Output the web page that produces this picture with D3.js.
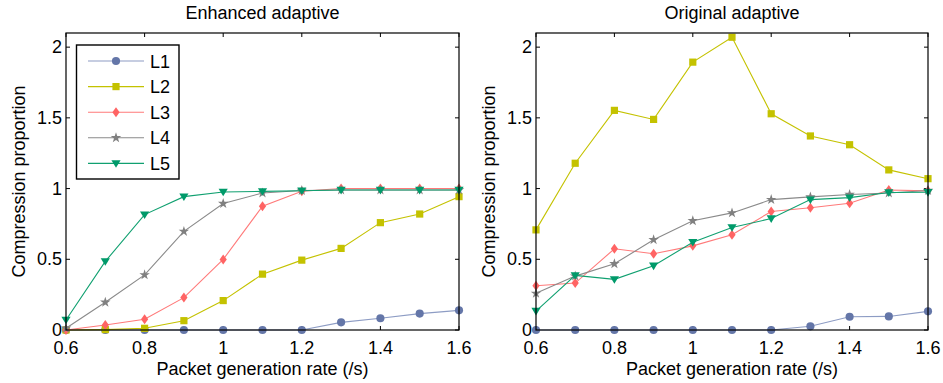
<!DOCTYPE html>
<html>
<head>
<meta charset="utf-8">
<script src="https://cdn.jsdelivr.net/npm/d3@7"></script>
<style>
  body { margin: 0; background: #fff; }
  svg { font-family: Arial, "Liberation Sans", sans-serif; }
</style>
</head>
<body>
<script>
const rates = [0.6, 0.7, 0.8, 0.9, 1.0, 1.1, 1.2, 1.3, 1.4, 1.5, 1.6];
const seriesNames = ["L1", "L2", "L3", "L4", "L5"];
const xTicks = [0.6, 0.8, 1, 1.2, 1.4, 1.6];
const yTicks = [0, 0.5, 1, 1.5, 2];

// Enhanced adaptive
const enhL1 = [0, 0, 0, 0, 0, 0, 0, 0.054, 0.083, 0.116, 0.139];
const enhL2 = [0, 0.003, 0.012, 0.066, 0.208, 0.395, 0.494, 0.577, 0.759, 0.82, 0.943];
const enhL3 = [0, 0.035, 0.076, 0.229, 0.499, 0.875, 0.981, 1.0, 1.0, 1.0, 1.0];
const enhL4 = [0.012, 0.196, 0.39, 0.697, 0.894, 0.969, 0.986, 0.99, 0.99, 0.99, 0.99];
const enhL5 = [0.071, 0.485, 0.816, 0.943, 0.976, 0.98, 0.985, 0.99, 0.99, 0.99, 0.99];

// Original adaptive
const orgL1 = [0, 0, 0, 0, 0, 0, 0, 0.026, 0.094, 0.096, 0.132];
const orgL2 = [0.708, 1.179, 1.553, 1.489, 1.894, 2.07, 1.529, 1.372, 1.31, 1.132, 1.07];
const orgL3 = [0.313, 0.332, 0.574, 0.539, 0.595, 0.673, 0.838, 0.864, 0.896, 0.99, 0.984];
const orgL4 = [0.259, 0.381, 0.468, 0.638, 0.772, 0.828, 0.922, 0.941, 0.958, 0.969, 0.986];
const orgL5 = [0.134, 0.386, 0.358, 0.454, 0.621, 0.725, 0.788, 0.922, 0.936, 0.972, 0.974];

const markColors = ["#6476a8", "#c4c200", "#ff6464", "#808080", "#009a6a"];
const lineColors = ["#8d9cc4", "#c4c200", "#ff7a7a", "#8a8a8a", "#10a070"];

const W = 943, H = 383;
const svg = d3.select("body").append("svg")
  .attr("width", W)
  .attr("height", H);

// marker shapes (MATLAB style)
function markerPath(i) {
  if (i == 0) return d3.symbol(d3.symbolCircle, 52)();
  if (i == 1) return "M-3.6,-3.6H3.6V3.6H-3.6Z";
  if (i == 2) return "M0,-5L3.6,0L0,5L-3.6,0Z";
  if (i == 3) return d3.symbol(d3.symbolStar, 34)();
  return "M-4.6,-3.2H4.6L0,4.4Z";
}

function drawPanel(left, right, title, data, withLegend) {
  const top = 33, bottom = 330;
  const x = d3.scaleLinear().domain([0.6, 1.6]).range([left, right]);
  const y = d3.scaleLinear().domain([0, 2.1]).range([bottom, top]);
  const g = svg.append("g");

  // ticks inward on all sides
  const tickLen = 4;
  g.selectAll(".xt").data(xTicks).enter().append("path")
    .attr("d", d => `M${x(d)},${bottom}v${-tickLen}M${x(d)},${top}v${tickLen}`)
    .attr("stroke", "#000").attr("stroke-width", 1);
  g.selectAll(".yt").data(yTicks).enter().append("path")
    .attr("d", d => `M${left},${y(d)}h${tickLen}M${right},${y(d)}h${-tickLen}`)
    .attr("stroke", "#000").attr("stroke-width", 1);

  g.selectAll(".xl").data(xTicks).enter().append("text")
    .attr("x", d => x(d))
    .attr("y", 354)
    .attr("text-anchor", "middle")
    .style("font-size", "18px")
    .text(d => d3.format("~g")(d));
  g.selectAll(".yl").data(yTicks).enter().append("text")
    .attr("x", left - 4)
    .attr("y", d => y(d) + 6)
    .attr("text-anchor", "end")
    .style("font-size", "18px")
    .text(d => d3.format("~g")(d));

  g.append("text")
    .attr("x", (left + right) / 2)
    .attr("y", 19)
    .attr("text-anchor", "middle")
    .style("font-size", "18px")
    .text(title);
  g.append("text")
    .attr("x", (left + right) / 2)
    .attr("y", 375)
    .attr("text-anchor", "middle")
    .style("font-size", "18px")
    .text("Packet generation rate (/s)");
  g.append("text")
    .attr("transform", `translate(${left - 41},${(top + bottom) / 2})rotate(-90)`)
    .attr("text-anchor", "middle")
    .style("font-size", "18px")
    .text("Compression proportion");

  const line = d3.line()
    .x((d, i) => x(rates[i]))
    .y(d => y(d));

  data.forEach((vals, s) => {
    g.append("path")
      .attr("d", line(vals))
      .attr("fill", "none")
      .attr("stroke", lineColors[s])
      .attr("stroke-width", 1.1);
    g.selectAll(".m" + s).data(vals).enter().append("path")
      .attr("d", markerPath(s))
      .attr("transform", (d, i) => `translate(${x(rates[i])},${y(d)})`)
      .attr("fill", markColors[s]);
  });

  g.append("rect")
    .attr("x", left).attr("y", top)
    .attr("width", right - left).attr("height", bottom - top)
    .attr("fill", "none").attr("stroke", "#000").attr("stroke-width", 1.2);

  if (withLegend) {
    const lg = g.append("g");
    lg.append("rect")
      .attr("x", 76.5).attr("y", 45)
      .attr("width", 102.5).attr("height", 134)
      .attr("fill", "#fff").attr("stroke", "#000").attr("stroke-width", 1.4);
    seriesNames.forEach((name, s) => {
      const ly = 61 + s * 25.6;
      lg.append("line")
        .attr("x1", 88).attr("x2", 144)
        .attr("y1", ly).attr("y2", ly)
        .attr("stroke", lineColors[s]).attr("stroke-width", 1.1);
      lg.append("path")
        .attr("d", markerPath(s))
        .attr("transform", `translate(116,${ly})`)
        .attr("fill", markColors[s]);
      lg.append("text")
        .attr("x", 150).attr("y", ly + 6.5)
        .style("font-size", "18px")
        .text(name);
    });
  }
}

drawPanel(66, 459, "Enhanced adaptive", [enhL1, enhL2, enhL3, enhL4, enhL5], true);
drawPanel(536, 928, "Original adaptive", [orgL1, orgL2, orgL3, orgL4, orgL5], false);
</script>
</body>
</html>
